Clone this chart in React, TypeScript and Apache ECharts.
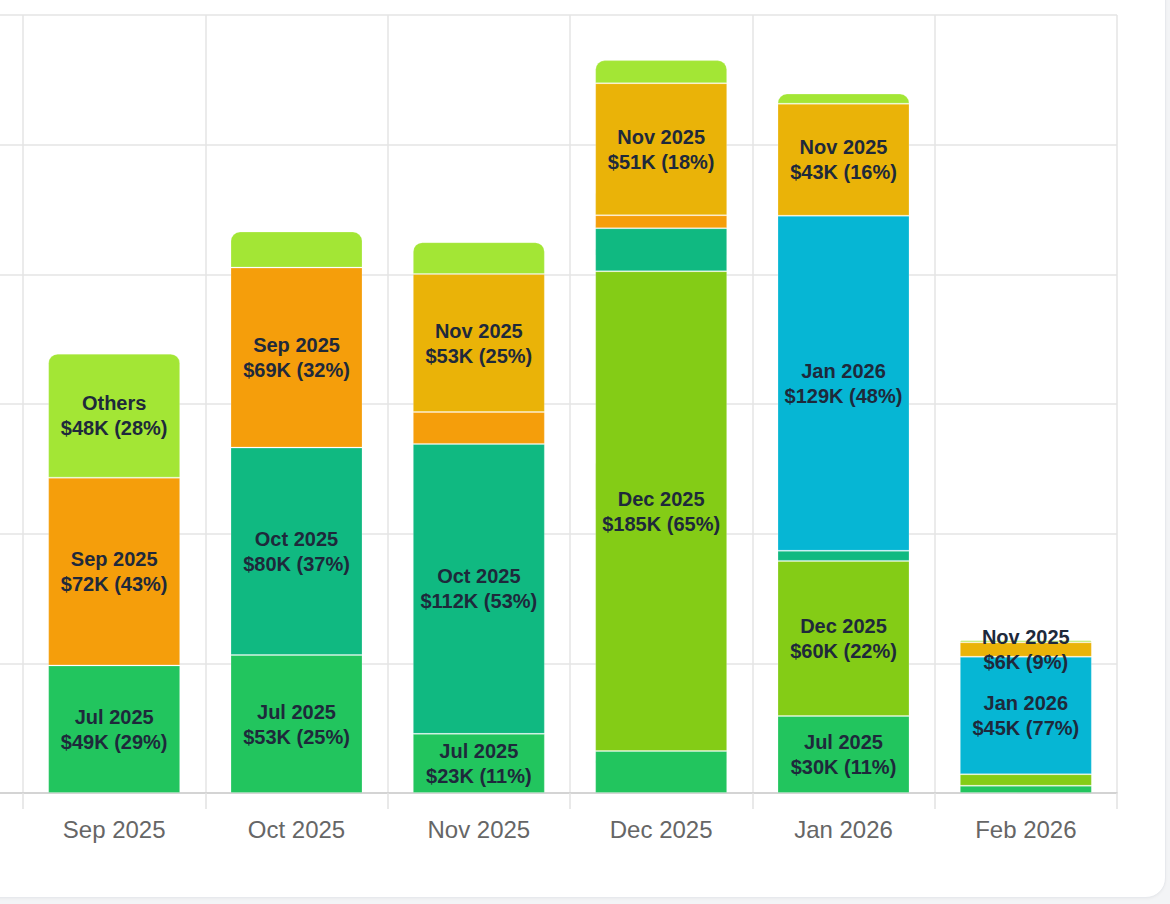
import React, { useEffect, useRef } from "react";
import * as echarts from "echarts";

// Months on the x axis (the first, off-screen category is blank)
const categories = ["", "Sep 2025", "Oct 2025", "Nov 2025", "Dec 2025", "Jan 2026", "Feb 2026"];

// Cohort revenue per month (USD), stacked in this order bottom -> top
const cohortNames = ["Jul 2025", "Dec 2025", "Oct 2025", "Sep 2025", "Jan 2026", "Nov 2025", "Others"];
const jul2025 = [null, 49200, 53200, 22800, 16200, 29700, 2800];
const dec2025 = [null, 0, 0, 0, 185000, 59800, 4450];
const oct2025 = [null, 0, 80000, 111800, 16600, 3900, 0];
const sep2025 = [null, 72400, 69400, 12300, 5000, 0, 0];
const jan2026 = [null, 0, 0, 0, 0, 129200, 45300];
const nov2025 = [null, 0, 0, 53200, 50900, 43200, 5550];
const others = [null, 47800, 13900, 12300, 8900, 3900, 800];

const cohortColors = ["#22c55e", "#84cc16", "#10b981", "#f59e0b", "#06b6d4", "#eab308", "#a3e635"];

const yTicks = [0, 50000, 100000, 150000, 200000, 250000, 300000];

const FONT = "'Liberation Sans', Arial, Helvetica, sans-serif";

export default function App() {
  const ref = useRef<HTMLDivElement>(null);

  useEffect(() => {
    if (!ref.current) return;
    const chart = echarts.init(ref.current, null, { renderer: "svg" });
    const seriesData = [jul2025, dec2025, oct2025, sep2025, jan2026, nov2025, others];
    const totals = categories.map((_, i) =>
      seriesData.reduce((s, arr) => s + (arr[i] || 0), 0)
    );
    const topIndex = categories.map((_, i) => {
      let top = -1;
      seriesData.forEach((arr, k) => {
        if ((arr[i] || 0) > 0) top = k;
      });
      return top;
    });

    const series = seriesData.map((arr, k) => ({
      name: cohortNames[k],
      type: "bar",
      stack: "total",
      barWidth: 132,
      itemStyle: {
        color: cohortColors[k],
        borderColor: "rgba(255,255,255,0.22)",
        borderWidth: 1,
      },
      label: {
        show: true,
        position: "inside",
        fontFamily: FONT,
        fontSize: 20,
        fontWeight: "bold",
        lineHeight: 25,
        color: "#1e293b",
        formatter: (p: any) => {
          const v = p.value;
          const t = totals[p.dataIndex];
          if (!v || !t) return "";
          const pct = Math.round((v / t) * 100);
          if (pct < 9) return "";
          return `${cohortNames[k]}\n$${Math.round(v / 1000)}K (${pct}%)`;
        },
      },
      data: arr.map((v, i) => {
        if (!v) return null;
        if (topIndex[i] === k) {
          return { value: v, itemStyle: { borderRadius: [9, 9, 0, 0] } };
        }
        return v;
      }),
    }));

    chart.setOption({
      animation: false,
      grid: { left: 240.67, right: 49, top: 15, bottom: 105, containLabel: false },
      xAxis: {
        type: "category",
        data: categories,
        boundaryGap: true,
        axisLine: { show: true, lineStyle: { color: "#cccccc", width: 1.5 } },
        axisTick: { show: true, length: 16, lineStyle: { color: "#e2e2e2", width: 1.5 } },
        splitLine: { show: true, lineStyle: { color: "#e4e4e4", width: 1.5 } },
        axisLabel: { fontFamily: FONT, fontSize: 24, color: "#666666", margin: 24 },
      },
      yAxis: {
        type: "value",
        min: yTicks[0],
        max: yTicks[yTicks.length - 1],
        interval: yTicks[1] - yTicks[0],
        axisLabel: { show: false },
        axisLine: { show: false },
        axisTick: { show: false },
        splitLine: { show: true, lineStyle: { color: "#e4e4e4", width: 1.5 } },
      },
      series,
    });
    return () => chart.dispose();
  }, []);

  return (
    <div
      style={{
        position: "fixed",
        left: 0,
        top: 0,
        width: 1170,
        height: 904,
        background: "#f3f4f6",
        overflow: "hidden",
      }}
    >
      <div
        style={{
          position: "absolute",
          left: -400,
          top: -30,
          width: 1566,
          height: 928,
          background: "#ffffff",
          border: "1px solid #e7e9ed",
          borderRadius: 20,
          boxSizing: "border-box",
          boxShadow: "0 1px 3px rgba(0,0,0,0.04)",
        }}
      />
      <div
        ref={ref}
        style={{ position: "absolute", left: -400, top: 0, width: 1566, height: 898 }}
      />
    </div>
  );
}
